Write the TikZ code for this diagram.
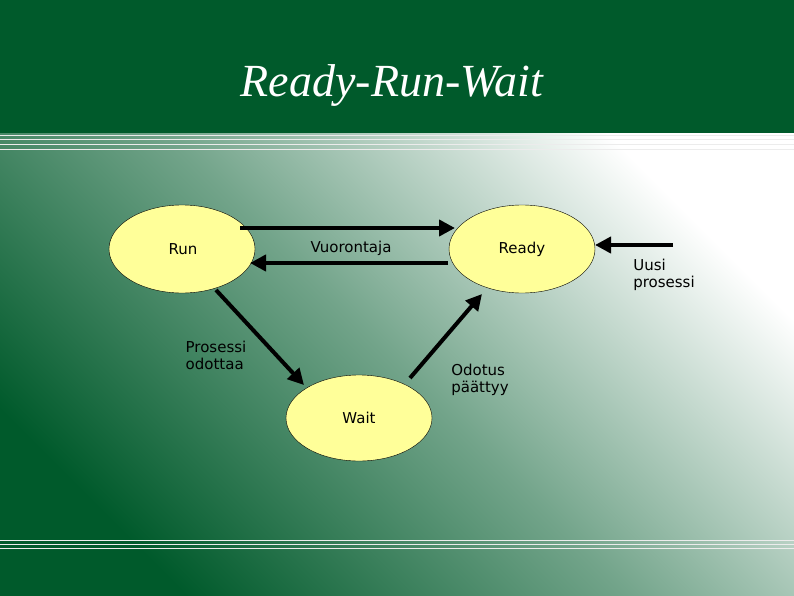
\documentclass[tikz,border=0pt]{standalone}
\usepackage{fontspec}
\setmainfont{Liberation Serif}
\newfontfamily\dv{DejaVu Sans}
\usetikzlibrary{arrows.meta,shapes.geometric}
\definecolor{dkg}{HTML}{005A2B}
\definecolor{ylw}{HTML}{FFFF99}
\begin{document}
\begin{tikzpicture}[x=1pt,y=-1pt,
  st/.style={ellipse,draw=black,thin,fill=ylw,minimum width=146pt,minimum height=88pt},
  ar/.style={line width=4pt,-{Triangle[length=16pt,width=16pt]}},
  lb/.style={font=\dv\fontsize{15}{17}\selectfont,align=left}]
\useasboundingbox (0,0) rectangle (794,596);
\shade[top color=white,bottom color=dkg,middle color=dkg!55!white,shading angle=-45] (0,133) rectangle (794,596);
\fill[dkg] (0,0) rectangle (794,133);
\foreach \y in {136,140,145,150,540,544,548}{\draw[white!85!gray,line width=1pt] (0,\y)--(794,\y);}
\node[white,font=\itshape\fontsize{46}{52}\selectfont] (t) at (392,86) {Ready-Run-Wait};
\node[st] (run) at (182,249) {};
\node[st] (ready) at (522,249) {};
\node[st,minimum height=86pt] (wait) at (359,418) {};
\node[lb] (lrun) at (183,249) {Run};
\node[lb] (lready) at (522,249) {Ready};
\node[lb] (lwait) at (359,418) {Wait};
\node[lb] (v) at (351,248) {Vuorontaja};
\node[lb] (p) at (216,355) {Prosessi\\odottaa};
\node[lb] (o) at (480,380) {Odotus\\päättyy};
\node[lb] (u) at (664,275) {Uusi\\prosessi};
\coordinate (a1) at (240,228); \coordinate (a2) at (455,228);
\coordinate (b1) at (448,263); \coordinate (b2) at (250,263);
\coordinate (c1) at (216,290); \coordinate (c2) at (304,385);
\coordinate (d1) at (410,378); \coordinate (d2) at (482,294);
\coordinate (e1) at (673,245); \coordinate (e2) at (595,245);
\draw[ar] (a1)--(a2);
\draw[ar] (b1)--(b2);
\draw[ar] (c1)--(c2);
\draw[ar] (d1)--(d2);
\draw[ar] (e1)--(e2);
\end{tikzpicture}
\end{document}
